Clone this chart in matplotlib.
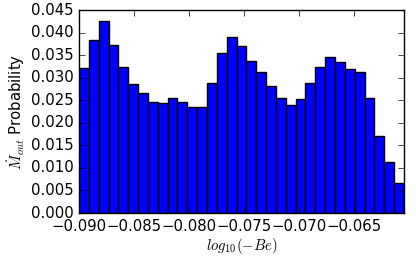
import numpy as np
import matplotlib
matplotlib.use("Agg")
import matplotlib.pyplot as plt

plt.style.use("classic")

# Histogram data (probability per bin)
bin_start = -0.0900
bin_stop = -0.0605
probabilities = [0.0321, 0.0383, 0.0426, 0.0372, 0.0324, 0.0287, 0.0267, 0.0246,
                 0.0243, 0.0256, 0.0246, 0.0235, 0.0234, 0.0288, 0.0355, 0.0391,
                 0.0370, 0.0337, 0.0312, 0.0282, 0.0254, 0.0240, 0.0252, 0.0289,
                 0.0324, 0.0346, 0.0334, 0.0319, 0.0313, 0.0255, 0.0170, 0.0113,
                 0.0066]
xticks = [-0.090, -0.085, -0.080, -0.075, -0.070, -0.065]
yticks = [0.000, 0.005, 0.010, 0.015, 0.020, 0.025, 0.030, 0.035, 0.040, 0.045]

edges = np.linspace(bin_start, bin_stop, len(probabilities) + 1)
width = edges[1] - edges[0]

fig = plt.figure(figsize=(4.16, 2.57), dpi=100)
ax = fig.add_axes([0.19, 0.171, 0.781, 0.79])
ax.bar(edges[:-1], probabilities, width=width, align="edge",
       color="b", edgecolor="k", linewidth=1.0)
ax.set_xlim(bin_start, bin_stop)
ax.set_ylim(0, 0.045)
ax.set_xticks(xticks)
ax.set_xticklabels(["\u2212%.3f" % abs(t) for t in xticks])
ax.set_yticks(yticks)
ax.set_yticklabels(["%.3f" % t for t in yticks])
ax.tick_params(labelsize=10.7)
ax.set_xlabel(r"$log_{10}(-Be)$", fontsize=10.7, labelpad=1.5)
ax.set_ylabel(r"$\dot{M}_{out}$ Probability", fontsize=10.7, labelpad=2.5)
fig.savefig("out.png", dpi=100)
